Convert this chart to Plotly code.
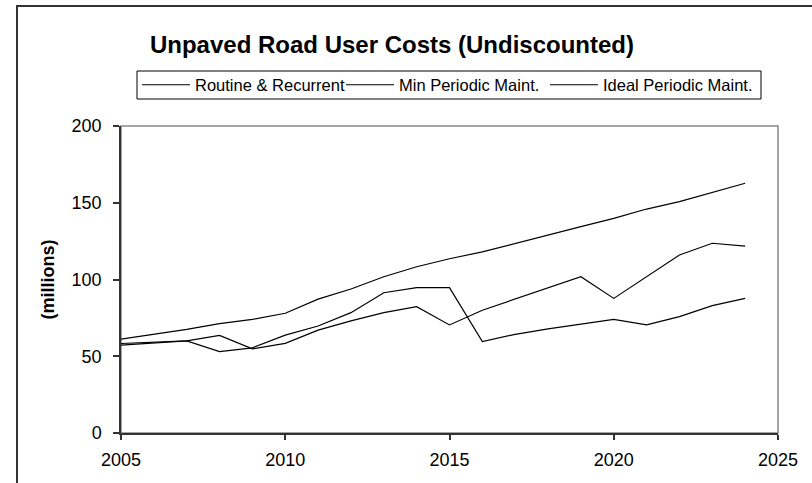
import plotly.graph_objects as go

years = list(range(2005, 2025))
routine = [61.2, 64.3, 67.5, 71.2, 74.0, 78.0, 87.2, 93.8, 101.8, 108.3,
           113.5, 118.0, 123.6, 129.0, 134.4, 139.8, 145.9, 150.7, 156.8, 162.7]
min_periodic = [58.3, 59.2, 60.0, 63.6, 54.8, 58.4, 67.0, 73.0, 78.4, 82.3,
                70.4, 80.0, 87.3, 94.5, 101.8, 87.7, 101.8, 116.0, 123.6, 121.8]
ideal_periodic = [57.3, 58.6, 60.0, 53.0, 55.5, 63.8, 69.7, 78.4, 91.4, 94.7,
                  94.7, 59.5, 64.3, 67.8, 71.0, 74.0, 70.4, 75.8, 83.0, 87.7]
series_names = ["Routine & Recurrent", "Min Periodic Maint.", "Ideal Periodic Maint."]
x_ticks = [2005, 2010, 2015, 2020, 2025]
y_ticks = [0, 50, 100, 150, 200]

W, H = 812, 483
L, R, T, B = 121, 34, 126, 50
pw, ph = W - L - R, H - T - B

def px(x):
    return (x - L) / pw

def py(y):
    return (H - B - y) / ph

legend_ids = ["legend", "legend2", "legend3"]
legend_left = [137, 341, 545]

fig = go.Figure()
for name, vals, lg in zip(series_names, [routine, min_periodic, ideal_periodic], legend_ids):
    fig.add_trace(go.Scatter(x=years, y=vals, mode="lines", name=name, legend=lg,
                             line=dict(color="black", width=1.2)))

legend_style = dict(orientation="h", xanchor="left", y=py(85), yanchor="middle",
                    borderwidth=0, bgcolor="rgba(0,0,0,0)",
                    font=dict(size=16.5), itemwidth=48)

fig.update_layout(
    width=W, height=H,
    margin=dict(l=L, r=R, t=T, b=B, pad=0, autoexpand=False),
    paper_bgcolor="white", plot_bgcolor="white",
    font=dict(family="Arial, Liberation Sans, sans-serif", color="black", size=18),
    title=dict(text="<b>Unpaved Road User Costs (Undiscounted)</b>",
               font=dict(size=24, color="black"),
               x=px(392), xref="paper", xanchor="center",
               y=1 - 45 / H, yref="container", yanchor="middle"),
    legend=dict(x=px(legend_left[0]), **legend_style),
    legend2=dict(x=px(legend_left[1]), **legend_style),
    legend3=dict(x=px(legend_left[2]), **legend_style),
    showlegend=True,
)
fig.update_xaxes(range=[2005, 2025], tickvals=x_ticks, ticks="outside", ticklen=5,
                 tickcolor="#333", tickwidth=1.5, showline=True, linecolor="#333",
                 linewidth=1.5, showgrid=False, zeroline=False,
                 ticklabelstandoff=5)
fig.update_yaxes(range=[0, 200], tickvals=y_ticks, ticks="outside", ticklen=6,
                 tickcolor="#333", tickwidth=1.5, showline=True, linecolor="#333",
                 linewidth=1.5, showgrid=False, zeroline=False,
                 ticklabelstandoff=8,
                 title=dict(text="<b>(millions)</b>", font=dict(size=18), standoff=12))

# plot-area frame (top/right in grey)
fig.add_shape(type="rect", xref="paper", yref="paper", x0=0, x1=1, y0=0, y1=1,
              line=dict(color="#888", width=1.5), layer="below")
# outer chart border
fig.add_shape(type="rect", xref="paper", yref="paper",
              x0=px(17), x1=px(830), y0=py(500), y1=py(6),
              line=dict(color="#333", width=2), layer="below")
# legend box
fig.add_shape(type="rect", xref="paper", yref="paper",
              x0=px(137), x1=px(761), y0=py(99), y1=py(71),
              line=dict(color="black", width=1), fillcolor="white", layer="below")

fig.write_html("out.html", config={"displayModeBar": False},
               post_script="document.body.style.margin='0';")
